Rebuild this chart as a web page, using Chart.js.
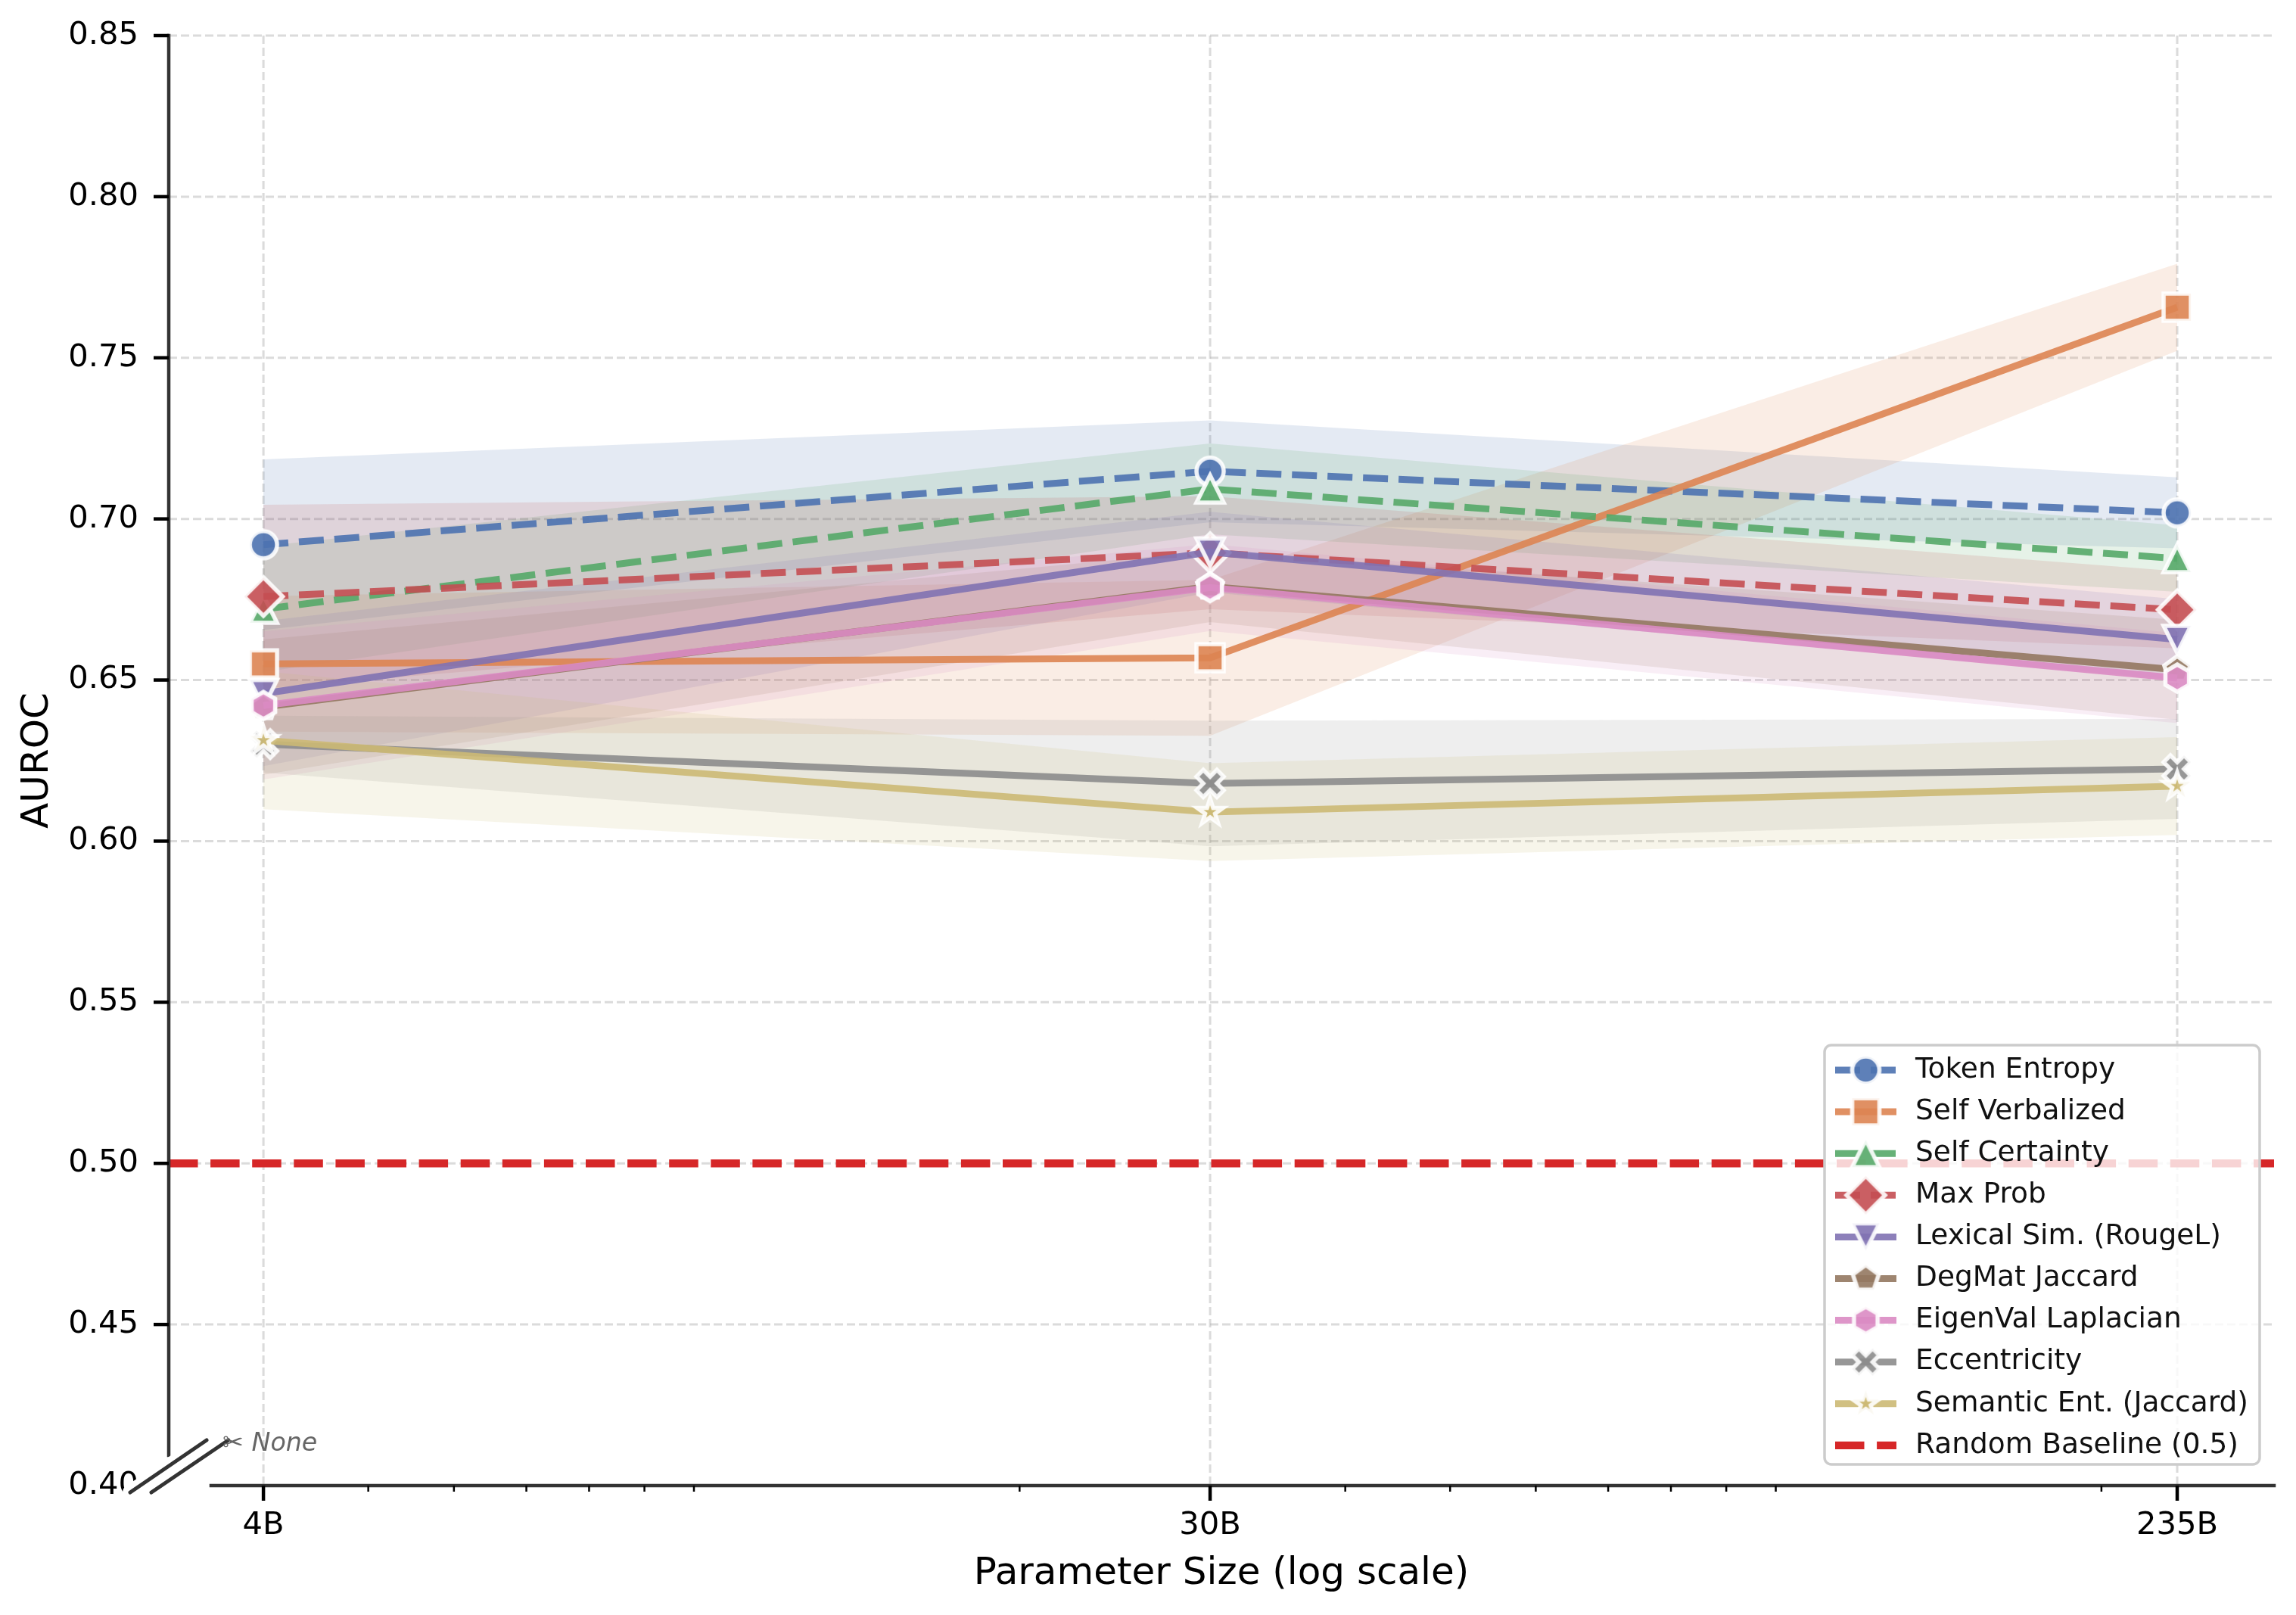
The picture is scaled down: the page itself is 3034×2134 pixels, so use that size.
<!DOCTYPE html>
<html>
<head>
<meta charset="utf-8">
<script src="https://cdn.jsdelivr.net/npm/chart.js@4.4.1/dist/chart.umd.min.js"></script>
<style>
  html, body { margin: 0; padding: 0; background: #fff; }
  #wrap { width: 3034px; height: 2134px; }
</style>
</head>
<body>
<div id="wrap"><canvas id="chart" width="3034" height="2134"></canvas></div>
<script>
// x positions (billions of params) and their labels
const sizes = [4, 30, 235]
const sizeLabels = ['4B', '30B', '235B']
const minorTicks = [5, 6, 7, 8, 9, 10, 20, 40, 50, 60, 70, 80, 90, 100, 200]
const yTicks = [0.40, 0.45, 0.50, 0.55, 0.60, 0.65, 0.70, 0.75, 0.80, 0.85]

const methodNames = ['Token Entropy', 'Self Verbalized', 'Self Certainty', 'Max Prob',
  'Lexical Sim. (RougeL)', 'DegMat Jaccard', 'EigenVal Laplacian', 'Eccentricity',
  'Semantic Ent. (Jaccard)']

// mean AUROC and half width of the shaded band
const tokenEntropy = [0.692, 0.7148, 0.7019]
const tokenEntropyErr = [0.0265, 0.0158, 0.011]
const selfVerbalized = [0.655, 0.6569, 0.7657]
const selfVerbalizedErr = [0.021, 0.0242, 0.0135]
const selfCertainty = [0.672, 0.7093, 0.6877]
const selfCertaintyErr = [0.0195, 0.0141, 0.0103]
const maxProb = [0.6759, 0.6895, 0.6718]
const maxProbErr = [0.0285, 0.0175, 0.012]
const lexicalSim = [0.6458, 0.6897, 0.6626]
const lexicalSimErr = [0.0225, 0.0125, 0.0125]
const degMat = [0.6416, 0.679, 0.6532]
const degMatErr = [0.021, 0.011, 0.0155]
const eigenVal = [0.6421, 0.6787, 0.6506]
const eigenValErr = [0.023, 0.0135, 0.014]
const eccentricity = [0.6301, 0.6179, 0.6224]
const eccentricityErr = [0.0088, 0.0195, 0.0155]
const semanticEnt = [0.6313, 0.609, 0.6171]
const semanticEntErr = [0.0214, 0.0152, 0.0152]

const baselineValue = 0.5
const baselineLabel = 'Random Baseline (0.5)'

const xMin = 3.27, xMax = 288.8

// styling
const colors = ['#4C72B0', '#DD8452', '#55A868', '#C44E52', '#8172B3', '#937860', '#DA8BC3', '#8C8C8C', '#CCB974']
const markers = ['circle', 'square', 'triangleUp', 'diamond', 'triangleDown', 'pentagon', 'hexagon', 'xFilled', 'star']
const dashed = [true, false, true, true, false, false, false, false, false]
const FONT = '"DejaVu Sans", "Liberation Sans", sans-serif'
const LW = 9
const DASH = [33, 14]
const MS = 36, MEW = 5.5

const means = [tokenEntropy, selfVerbalized, selfCertainty, maxProb, lexicalSim, degMat, eigenVal, eccentricity, semanticEnt]
const errs = [tokenEntropyErr, selfVerbalizedErr, selfCertaintyErr, maxProbErr, lexicalSimErr, degMatErr, eigenValErr, eccentricityErr, semanticEntErr]

function rgba(hex, a){
  const n = parseInt(hex.slice(1), 16)
  return `rgba(${(n >> 16) & 255},${(n >> 8) & 255},${n & 255},${a})`
}

function polygon(ctx, n, r){
  for(let k = 0; k < n; k++){
    const a = -Math.PI/2 + k*2*Math.PI/n
    k ? ctx.lineTo(r*Math.cos(a), r*Math.sin(a)) : ctx.moveTo(r*Math.cos(a), r*Math.sin(a))
  }
  ctx.closePath()
}

function markerPath(ctx, shape){
  const r = MS/2
  ctx.beginPath()
  if(shape === 'circle') ctx.arc(0, 0, r, 0, Math.PI*2)
  else if(shape === 'square') ctx.rect(-r, -r, MS, MS)
  else if(shape === 'triangleUp'){ ctx.moveTo(0, -r); ctx.lineTo(r, r); ctx.lineTo(-r, r); ctx.closePath() }
  else if(shape === 'triangleDown'){ ctx.moveTo(0, r); ctx.lineTo(-r, -r); ctx.lineTo(r, -r); ctx.closePath() }
  else if(shape === 'diamond'){
    const d = MS*Math.SQRT1_2
    ctx.moveTo(0, -d); ctx.lineTo(d, 0); ctx.lineTo(0, d); ctx.lineTo(-d, 0); ctx.closePath()
  }
  else if(shape === 'pentagon') polygon(ctx, 5, r)
  else if(shape === 'hexagon') polygon(ctx, 6, r)
  else if(shape === 'xFilled'){
    const pts = [[-1,-2],[0,-1],[1,-2],[2,-1],[1,0],[2,1],[1,2],[0,1],[-1,2],[-2,1],[-1,0],[-2,-1]]
    pts.forEach((p, k) => k ? ctx.lineTo(p[0]*MS/4, p[1]*MS/4) : ctx.moveTo(p[0]*MS/4, p[1]*MS/4))
    ctx.closePath()
  }
  else if(shape === 'star'){
    for(let k = 0; k < 10; k++){
      const rr = k % 2 ? r*0.381966 : r
      const a = -Math.PI/2 + k*Math.PI/5
      k ? ctx.lineTo(rr*Math.cos(a), rr*Math.sin(a)) : ctx.moveTo(rr*Math.cos(a), rr*Math.sin(a))
    }
    ctx.closePath()
  }
}

function makeMarker(shape, color){
  const c = document.createElement('canvas')
  c.width = 84; c.height = 84
  const ctx = c.getContext('2d')
  ctx.translate(42, 42)
  markerPath(ctx, shape)
  ctx.fillStyle = rgba(color, 0.9)
  ctx.fill()
  ctx.lineJoin = shape === 'circle' ? 'round' : 'miter'
  ctx.lineWidth = MEW
  ctx.strokeStyle = 'rgba(255,255,255,0.9)'
  ctx.stroke()
  return c
}

const markerImgs = markers.map((m, i) => makeMarker(m, colors[i]))

// build datasets: bands first (drawn underneath), then lines, then baseline
const datasets = []
methodNames.forEach((name, i) => {
  const upIdx = datasets.length
  datasets.push({
    label: name + ' upper',
    data: sizes.map((x, j) => ({x, y: means[i][j] + errs[i][j]})),
    borderColor: 'rgba(0,0,0,0)', borderWidth: 0, pointRadius: 0,
    backgroundColor: rgba(colors[i], 0.15), fill: upIdx + 1, order: 100 - i
  })
  datasets.push({
    label: name + ' lower',
    data: sizes.map((x, j) => ({x, y: means[i][j] - errs[i][j]})),
    borderColor: 'rgba(0,0,0,0)', borderWidth: 0, pointRadius: 0,
    fill: false, order: 100 - i
  })
})
methodNames.forEach((name, i) => {
  datasets.push({
    label: name,
    data: sizes.map((x, j) => ({x, y: means[i][j]})),
    borderColor: rgba(colors[i], 0.9), borderWidth: LW,
    borderDash: dashed[i] ? DASH : [], borderCapStyle: 'butt', borderJoinStyle: 'round',
    pointStyle: markerImgs[i], pointRadius: 16,
    fill: false, tension: 0, order: 50 - i
  })
})
datasets.push({
  label: baselineLabel,
  data: [{x: xMin, y: baselineValue}, {x: xMax, y: baselineValue}],
  borderColor: '#d62728', borderWidth: 10.4, borderDash: [38.5, 16.6],
  borderCapStyle: 'butt', pointRadius: 0, fill: false, order: 0
})

function line(ctx, x1, y1, x2, y2){
  ctx.beginPath(); ctx.moveTo(x1, y1); ctx.lineTo(x2, y2); ctx.stroke()
}

const decor = {
  id: 'decor',
  beforeDraw(chart){
    const ctx = chart.ctx
    ctx.save(); ctx.fillStyle = '#fff'; ctx.fillRect(0, 0, chart.width, chart.height); ctx.restore()
  },
  beforeDatasetsDraw(chart){
    const {ctx, chartArea: a, scales: {x, y}} = chart
    ctx.save()
    ctx.strokeStyle = 'rgba(176,176,176,0.45)'
    ctx.lineWidth = 3
    ctx.setLineDash([11, 5])
    yTicks.filter(v => v > 0.401).forEach(v => {
      const py = y.getPixelForValue(v)
      line(ctx, a.left, py, a.right, py)
    })
    sizes.forEach(v => {
      const px = x.getPixelForValue(v)
      line(ctx, px, a.top, px, a.bottom)
    })
    ctx.restore()
  },
  afterDatasetsDraw(chart){
    const {ctx, chartArea: a, scales: {x, y}} = chart
    ctx.save()
    // spines
    ctx.strokeStyle = '#333333'
    ctx.lineWidth = 4.5
    ctx.lineCap = 'square'
    line(ctx, a.left, a.top, a.left, a.bottom - 40)
    line(ctx, a.left + 56, a.bottom, a.right, a.bottom)
    ctx.lineCap = 'butt'
    // y ticks + labels
    ctx.strokeStyle = '#000'
    ctx.fillStyle = '#000'
    ctx.font = '41.7px ' + FONT
    ctx.textAlign = 'right'
    ctx.textBaseline = 'middle'
    yTicks.forEach(v => {
      const py = y.getPixelForValue(v)
      if(v > 0.401){ ctx.lineWidth = 4.5; line(ctx, a.left - 20, py, a.left, py) }
      ctx.fillText(v.toFixed(2), a.left - 40, py)
    })
    // x ticks + labels
    ctx.textAlign = 'center'
    sizes.forEach((v, i) => {
      const px = x.getPixelForValue(v)
      ctx.lineWidth = 4.5
      line(ctx, px, a.bottom, px, a.bottom + 20)
      ctx.fillText(sizeLabels[i], px, a.bottom + 53)
    })
    ctx.lineWidth = 2.5
    minorTicks.forEach(v => {
      const px = x.getPixelForValue(v)
      line(ctx, px, a.bottom, px, a.bottom + 8)
    })
    // axis titles
    ctx.font = '50px ' + FONT
    ctx.fillText('Parameter Size (log scale)', (a.left + a.right)/2, a.bottom + 117)
    ctx.save()
    ctx.translate(50, (a.top + a.bottom)/2)
    ctx.rotate(-Math.PI/2)
    ctx.fillText('AUROC', 0, 0)
    ctx.restore()
    // axis break marks
    const breaks = [[a.left - 51, a.bottom + 9, a.left + 50, a.bottom - 60],
                    [a.left - 23, a.bottom + 9, a.left + 78.7, a.bottom - 60]]
    ctx.lineCap = 'round'
    ctx.strokeStyle = '#fff'
    ctx.lineWidth = 20
    breaks.forEach(b => line(ctx, ...b))
    ctx.strokeStyle = '#333333'
    ctx.lineWidth = 5
    breaks.forEach(b => line(ctx, ...b))
    ctx.font = 'italic 33.3px ' + FONT
    ctx.fillStyle = '#666666'
    ctx.textAlign = 'left'
    ctx.textBaseline = 'alphabetic'
    ctx.fillText('\u2702 None', a.left + 71, a.bottom - 46)
    ctx.restore()
  },
  afterDraw(chart){
    const {ctx, chartArea: a} = chart
    const bw = 575, bh = 554
    const bx = a.right - 19 - bw, by = a.bottom - 28 - bh
    ctx.save()
    ctx.beginPath()
    ctx.roundRect(bx, by, bw, bh, 9)
    ctx.fillStyle = 'rgba(255,255,255,0.8)'
    ctx.fill()
    ctx.strokeStyle = '#cccccc'
    ctx.lineWidth = 3.5
    ctx.stroke()
    const hx1 = bx + 14, hx2 = bx + 95, mx = (hx1 + hx2)/2, tx = bx + 120
    const rows = methodNames.concat([baselineLabel])
    ctx.font = '37.5px ' + FONT
    ctx.textAlign = 'left'
    ctx.textBaseline = 'middle'
    rows.forEach((name, k) => {
      const ry = by + 33 + k*55.1
      ctx.lineCap = 'butt'
      if(k < methodNames.length){
        ctx.strokeStyle = rgba(colors[k], 0.9)
        ctx.lineWidth = LW
        ctx.setLineDash(dashed[k] ? DASH : [])
        line(ctx, hx1, ry, hx2, ry)
        ctx.setLineDash([])
        ctx.drawImage(markerImgs[k], mx - 42, ry - 42)
      } else {
        ctx.strokeStyle = '#d62728'
        ctx.lineWidth = 10.4
        ctx.setLineDash([38.5, 16.6])
        line(ctx, hx1, ry, hx2, ry)
        ctx.setLineDash([])
      }
      ctx.fillStyle = '#111'
      ctx.fillText(name, tx, ry)
    })
    ctx.restore()
  }
}

const chart = new Chart(document.getElementById('chart').getContext('2d'), {
  type: 'line',
  data: {datasets},
  options: {
    responsive: false,
    animation: false,
    devicePixelRatio: 1,
    events: [],
    layout: {padding: {left: 223, right: 29, top: 47, bottom: 171}},
    scales: {
      x: {type: 'logarithmic', min: xMin, max: xMax, display: false},
      y: {type: 'linear', min: 0.40, max: 0.85, display: false}
    },
    plugins: {
      legend: {display: false},
      tooltip: {enabled: false},
      filler: {propagate: false}
    }
  },
  plugins: [decor]
})
</script>
</body>
</html>
